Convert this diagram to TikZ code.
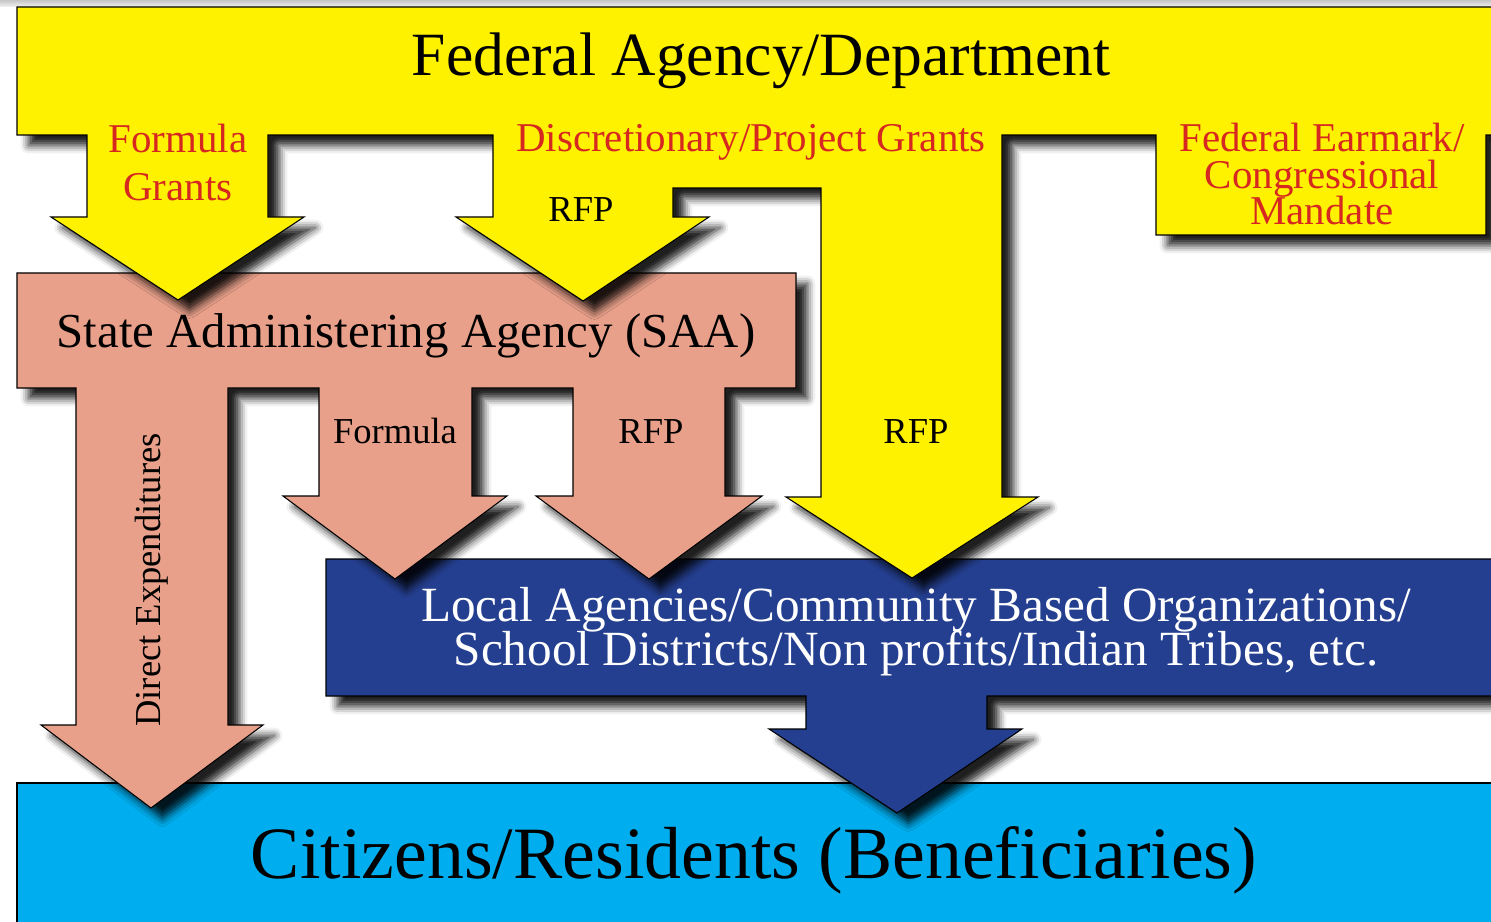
\documentclass[tikz,border=0pt]{standalone}
\usepackage{fontspec}
\setmainfont{Liberation Serif}
\usetikzlibrary{shadows.blur}
\definecolor{fedyellow}{RGB}{255,242,0}
\definecolor{saasalmon}{RGB}{232,160,138}
\definecolor{localblue}{RGB}{36,63,143}
\definecolor{citcyan}{RGB}{0,174,239}
\definecolor{grantred}{RGB}{214,40,32}
\begin{document}
\begin{tikzpicture}[x=0.02cm,y=-0.02cm,
  panel/.style={draw=black, line width=0.6pt, line join=miter,
    blur shadow={shadow xshift=6.5pt, shadow yshift=-6pt, shadow blur radius=4.5pt, shadow opacity=88}},
  txt/.style={inner sep=0pt, anchor=base},
  redtxt/.style={txt, text=grantred, font=\fontsize{23.3}{23.3}\selectfont},
  smalltxt/.style={txt, font=\fontsize{20.8}{20.8}\selectfont}]
\useasboundingbox (0,0) rectangle (1491,922);
\clip (0,0) rectangle (1491,922);
\shade[top color=gray!45, bottom color=gray!10] (0,0) rectangle (1491,7);
% Citizens box
\path[panel, fill=citcyan] (17,783) -- (1520,783) -- (1520,950) -- (17,950) -- cycle;
% Local agencies box with arrow
\path[panel, fill=localblue] (326,559) -- (1520,559) -- (1520,696) -- (987,696) -- (987,729) -- (1022,729) -- (897,813) -- (769,729) -- (806,729) -- (806,696) -- (326,696) -- cycle;
% SAA box with arrows
\path[panel, fill=saasalmon] (17,273) -- (796,273) -- (796,388) -- (725,388) -- (725,496) -- (762,496) -- (649,579) -- (536,496) -- (573,496) -- (573,388) -- (472,388) -- (472,496) -- (507,496) -- (395,579) -- (283,496) -- (319,496) -- (319,388) -- (228,388) -- (228,725) -- (263,725) -- (151,808) -- (41,725) -- (76,725) -- (76,388) -- (17,388) -- cycle;
% Federal shape with arrows
\path[panel, fill=fedyellow] (17,7) -- (1520,7) -- (1520,135) -- (1486,135) -- (1486,235) -- (1156,235) -- (1156,135) -- (1002,135) -- (1002,497) -- (1038,497) -- (912,578) -- (786,497) -- (821,497) -- (821,188) -- (673,188) -- (673,217) -- (709,217) -- (583,301) -- (456,217) -- (493,217) -- (493,135) -- (268,135) -- (268,217) -- (304,217) -- (178,300) -- (51,217) -- (87,217) -- (87,135) -- (17,135) -- cycle;
% Texts
\node[txt, font=\fontsize{35}{35}\selectfont] (fed) at (761,76) {Federal Agency/Department};
\node[redtxt] (fg1) at (178,153) {Formula};
\node[redtxt] (fg2) at (178,201) {Grants};
\node[redtxt] (disc) at (751,152) {Discretionary/Project Grants};
\node[redtxt] (em1) at (1322,152) {Federal Earmark/};
\node[redtxt] (em2) at (1322,189) {Congressional};
\node[redtxt] (em3) at (1322,225) {Mandate};
\node[smalltxt] (rfpa) at (581,222) {RFP};
\node[txt, font=\fontsize{27.8}{27.8}\selectfont] (saa) at (406,347) {State Administering Agency (SAA)};
\node[smalltxt] (form) at (395,443) {Formula};
\node[smalltxt] (rfpb) at (651,443) {RFP};
\node[smalltxt] (rfpc) at (916,443) {RFP};
\node[smalltxt, rotate=90] (dir) at (160,580) {Direct Expenditures};
\node[txt, text=white, font=\fontsize{28}{28}\selectfont] (loc1) at (916,621) {Local Agencies/Community Based Organizations/};
\node[txt, text=white, font=\fontsize{28}{28}\selectfont] (loc2) at (916,665) {School Districts/Non profits/Indian Tribes, etc.};
\node[txt, font=\fontsize{42}{42}\selectfont] (cit) at (754,878) {Citizens/Residents (Beneficiaries)};
\end{tikzpicture}
\end{document}
